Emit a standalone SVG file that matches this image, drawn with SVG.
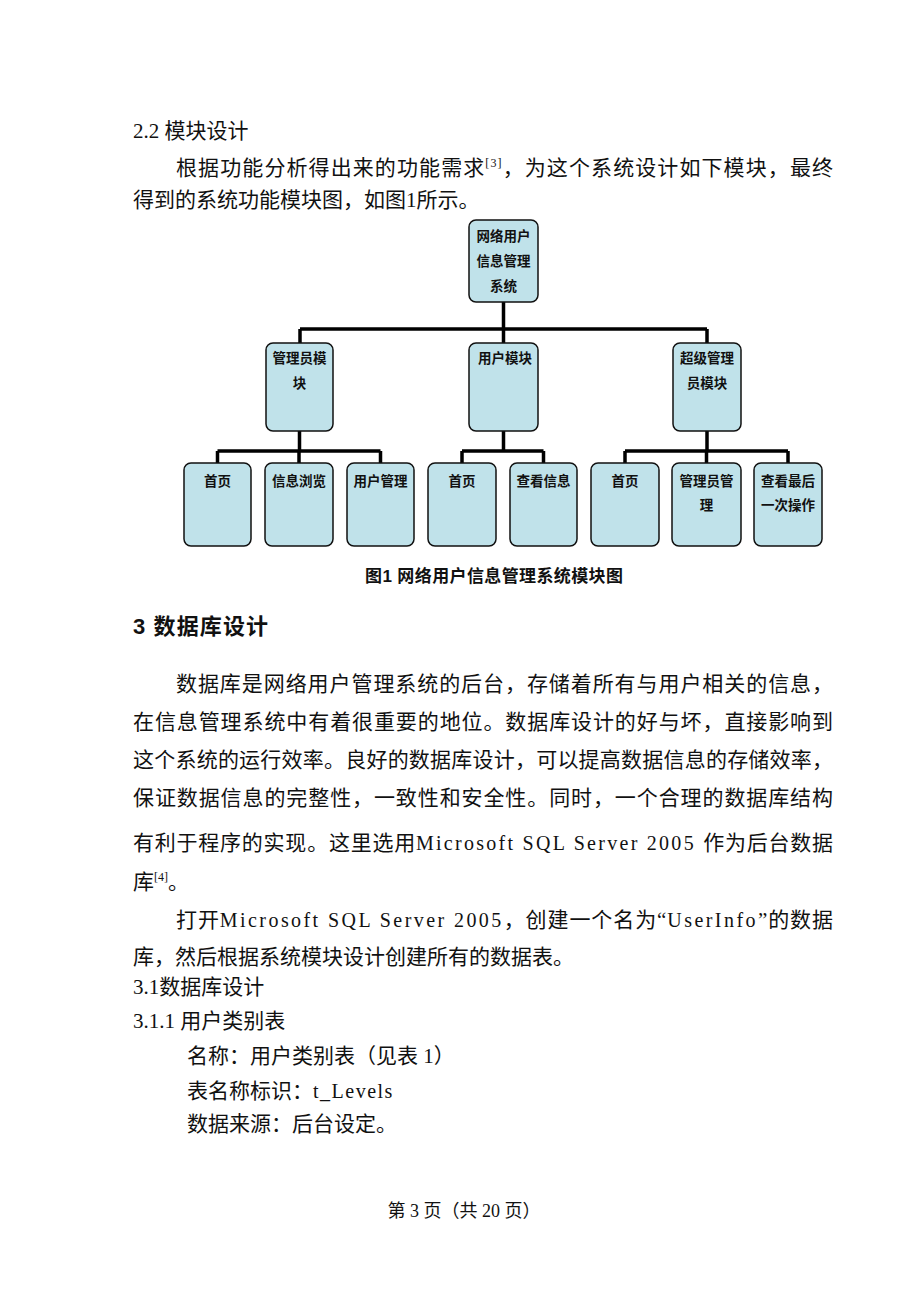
<svg xmlns="http://www.w3.org/2000/svg" width="920" height="1302" viewBox="0 0 920 1302">
<style>
.b{font-family:"Liberation Serif","Noto Sans CJK SC",serif;font-size:21px;fill:#111}
.m{font-family:"Liberation Serif","Noto Sans CJK SC",serif;font-size:20px;letter-spacing:1.5px}
.h{font-family:"Liberation Sans","Noto Sans CJK SC",sans-serif;font-size:22px;font-weight:bold;fill:#111}
.cap{font-family:"Liberation Sans","Noto Sans CJK SC",sans-serif;font-size:17px;font-weight:bold;fill:#111}
.bx{fill:#c0e2ea;stroke:#111;stroke-width:1.5}
.t{font-family:"Liberation Sans","Noto Sans CJK SC",sans-serif;font-size:13.5px;font-weight:bold;fill:#111;text-anchor:middle}
.c{fill:none;stroke:#000;stroke-width:3.5}
.sup{font-size:12px}
.f{font-family:"Liberation Serif","Noto Sans CJK SC",serif;font-size:18px;fill:#111}
</style>
<rect width="920" height="1302" fill="#fff"/>

<text class="b" x="133" y="138">2.2 模块设计</text>
<text class="b" x="176" y="175" textLength="657" lengthAdjust="spacing">根据功能分析得出来的功能需求<tspan class="sup" dy="-8">[3]</tspan><tspan dy="8">，为这个系统设计如下模块，最终</tspan></text>
<text class="b" x="133" y="207">得到的系统功能模块图，如图1所示。</text>

<g id="connectors">
<path class="c" d="M503.5,302 V329 M300,329 H707 M300,329 V343 M503.5,329 V343 M707,329 V343"/>
<path class="c" d="M299.5,431 V451 M217.5,451 H380.5 M217.5,451 V463 M299,451 V463 M380.5,451 V463"/>
<path class="c" d="M503.5,431 V451 M462,451 H543.5 M462,451 V463 M543.5,451 V463"/>
<path class="c" d="M707,431 V451 M625,451 H788 M625,451 V463 M706.5,451 V463 M788,451 V463"/>
</g>

<g id="root"><rect class="bx" x="469" y="220" width="69" height="82" rx="7"/>
<text class="t" x="503.5" y="241">网络用户</text><text class="t" x="503.5" y="266">信息管理</text><text class="t" x="503.5" y="291">系统</text></g>

<g id="admin"><rect class="bx" x="266" y="343" width="67" height="88" rx="7"/>
<text class="t" x="299.5" y="363">管理员模</text><text class="t" x="299.5" y="388">块</text></g>
<g id="user"><rect class="bx" x="469" y="343" width="69" height="88" rx="7"/>
<text class="t" x="505" y="363">用户模块</text></g>
<g id="super"><rect class="bx" x="673" y="343" width="68" height="88" rx="7"/>
<text class="t" x="707" y="363">超级管理</text><text class="t" x="707" y="388">员模块</text></g>

<g id="a-home"><rect class="bx" x="184" y="463" width="67" height="83" rx="7"/><text class="t" x="217.5" y="486">首页</text></g>
<g id="a-browse"><rect class="bx" x="265" y="463" width="68" height="83" rx="7"/><text class="t" x="299" y="486">信息浏览</text></g>
<g id="a-usermgr"><rect class="bx" x="347" y="463" width="67" height="83" rx="7"/><text class="t" x="380.5" y="486">用户管理</text></g>
<g id="u-home"><rect class="bx" x="428" y="463" width="68" height="83" rx="7"/><text class="t" x="462" y="486">首页</text></g>
<g id="u-view"><rect class="bx" x="510" y="463" width="67" height="83" rx="7"/><text class="t" x="543.5" y="486">查看信息</text></g>
<g id="s-home"><rect class="bx" x="591" y="463" width="68" height="83" rx="7"/><text class="t" x="625" y="486">首页</text></g>
<g id="s-adminmgr"><rect class="bx" x="672" y="463" width="69" height="83" rx="7"/><text class="t" x="706.5" y="486">管理员管</text><text class="t" x="706.5" y="510">理</text></g>
<g id="s-last"><rect class="bx" x="754" y="463" width="68" height="83" rx="7"/><text class="t" x="788" y="486">查看最后</text><text class="t" x="788" y="510">一次操作</text></g>

<text class="cap" x="365" y="582" textLength="258" lengthAdjust="spacing">图1  网络用户信息管理系统模块图</text>

<text class="h" x="133" y="634" textLength="135" lengthAdjust="spacing">3  数据库设计</text>

<text class="b" x="176" y="691" textLength="657" lengthAdjust="spacing">数据库是网络用户管理系统的后台，存储着所有与用户相关的信息，</text>
<text class="b" x="133" y="729" textLength="700" lengthAdjust="spacing">在信息管理系统中有着很重要的地位。数据库设计的好与坏，直接影响到</text>
<text class="b" x="133" y="767" textLength="700" lengthAdjust="spacing">这个系统的运行效率。良好的数据库设计，可以提高数据信息的存储效率，</text>
<text class="b" x="133" y="805" textLength="700" lengthAdjust="spacing">保证数据信息的完整性，一致性和安全性。同时，一个合理的数据库结构</text>
<text class="b" x="133" y="850" textLength="700" lengthAdjust="spacing">有利于程序的实现。这里选用<tspan class="m">Microsoft SQL Server 2005 </tspan>作为后台数据</text>
<text class="b" x="133" y="889">库<tspan class="sup" dy="-8">[4]</tspan><tspan dy="8">。</tspan></text>
<text class="b" x="176" y="927" textLength="657" lengthAdjust="spacing">打开<tspan class="m">Microsoft SQL Server 2005</tspan>，创建一个名为“<tspan class="m">UserInfo</tspan>”的数据</text>
<text class="b" x="133" y="964">库，然后根据系统模块设计创建所有的数据表。</text>
<text class="b" x="133" y="994">3.1数据库设计</text>
<text class="b" x="133" y="1028">3.1.1 用户类别表</text>
<text class="b" x="187" y="1063">名称：用户类别表（见表 1）</text>
<text class="b" x="187" y="1098">表名称标识：<tspan class="m">t_Levels</tspan></text>
<text class="b" x="187" y="1131">数据来源：后台设定。</text>

<text class="f" x="464" y="1217" text-anchor="middle">第 3 页（共 20 页）</text>
</svg>
